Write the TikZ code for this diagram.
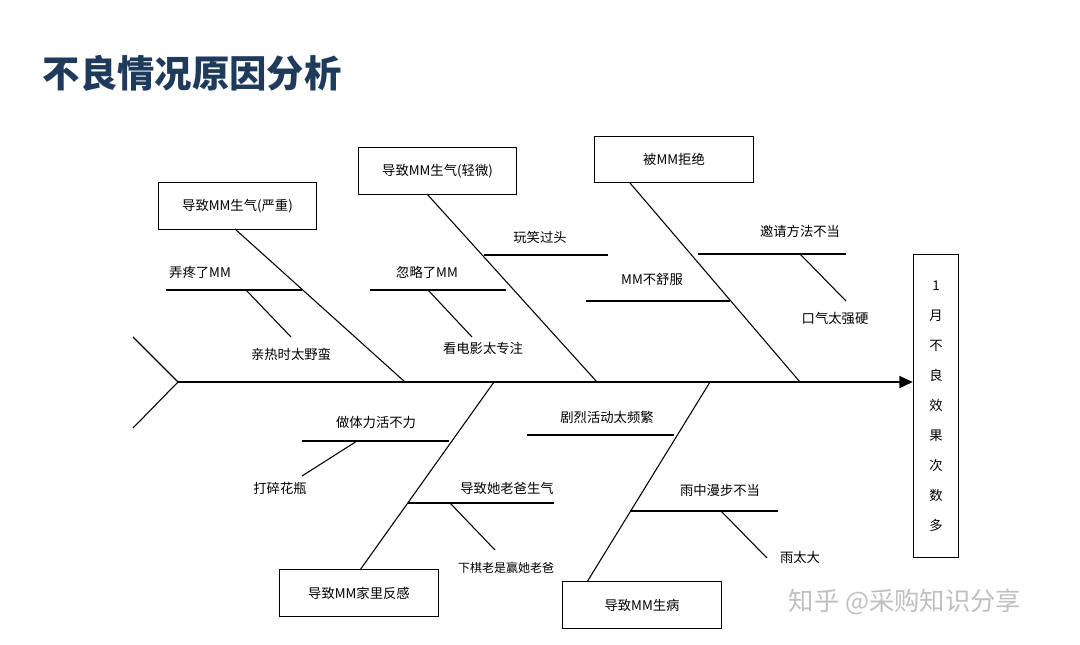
\documentclass[tikz,border=0pt]{standalone}
\usepackage{fontspec}
\setmainfont{Noto Sans CJK SC}
\usepackage{tikz}
\usetikzlibrary{arrows.meta}
\definecolor{titleblue}{HTML}{1F3B5C}
\tikzset{
  cause/.style={draw, thick, minimum width=119pt, minimum height=35pt, font=\fontsize{10}{12}\selectfont},
  lbl/.style={font=\fontsize{10}{12}\selectfont},
  bone/.style={thick},
}
\begin{document}
\begin{tikzpicture}[x=0.75pt, y=-0.75pt]
\useasboundingbox (0,0) rectangle (1080,645);
\node [anchor=west, font=\bfseries\fontsize{28}{32}\selectfont, text=titleblue] (title) at (38,73) {不良情况原因分析};
% effect
\node [draw, thick, minimum width=34pt, minimum height=227pt, align=center, font=\fontsize{10}{22.5}\selectfont] (effect) at (936,406) {1\\月\\不\\良\\效\\果\\次\\数\\多};
\coordinate (tail) at (178,382);
\coordinate (tu) at (133,337);
\coordinate (td) at (133,428);
\draw [bone] (tu) -- (tail) -- (td);
\draw [bone, -{Triangle[length=10pt, width=9pt]}] (tail) -- (tail -| effect.west);
% major causes
\node [cause] (serious) at (237.5,206) {导致MM生气(严重)};
\node [cause] (slight) at (437.5,171) {导致MM生气(轻微)};
\node [cause] (refuse) at (674,159.5) {被MM拒绝};
\node [cause] (family) at (359,593) {导致MM家里反感};
\node [cause] (ill) at (642,605) {导致MM生病};
\coordinate (s1) at (405,382);
\coordinate (s2) at (597,382);
\coordinate (s3) at (800,382);
\coordinate (s4) at (494,382);
\coordinate (s5) at (710,382);
\draw [bone] (235,229) -- (s1);
\draw [bone] (427,194) -- (s2);
\draw [bone] (630,183) -- (s3);
\draw [bone] (360,570) -- (s4);
\draw [bone] (587,582) -- (s5);
% minor causes
\node [lbl] (hurt) at (200,272) {弄疼了MM};
\node [lbl] (rough) at (291,354) {亲热时太野蛮};
\node [lbl] (ignore) at (427,272) {忽略了MM};
\node [lbl] (movie) at (483,348) {看电影太专注};
\node [lbl] (joke) at (540,237) {玩笑过头};
\node [lbl] (unwell) at (652,279) {MM不舒服};
\node [lbl] (invite) at (800,231) {邀请方法不当};
\node [lbl] (tone) at (835,318) {口气太强硬};
\node [lbl] (labor) at (376,422) {做体力活不力};
\node [lbl] (vase) at (280,488) {打碎花瓶};
\node [lbl] (dad) at (507,488) {导致她老爸生气};
\node [lbl, font=\fontsize{9}{11}\selectfont] (chess) at (506,568) {下棋老是赢她老爸};
\node [lbl] (sport) at (607,417) {剧烈活动太频繁};
\node [lbl] (rain) at (720,490) {雨中漫步不当};
\node [lbl] (heavy) at (800,557) {雨太大};
\draw [bone] (166,290) -- (302,290);
\draw [bone] (246,290) -- (291,337);
\draw [bone] (370,290) -- (506,290);
\draw [bone] (428,290) -- (472,337);
\draw [bone] (484,255) -- (608,255);
\draw [bone] (586,301) -- (730,301);
\draw [bone] (698,254) -- (846,254);
\draw [bone] (800,254) -- (846,301);
\draw [bone] (302,441) -- (449,441);
\draw [bone] (357,441) -- (302,476);
\draw [bone] (408,503) -- (554,503);
\draw [bone] (450,503) -- (495,550);
\draw [bone] (527,435) -- (674,435);
\draw [bone] (630,511) -- (778,511);
\draw [bone] (721,511) -- (767,558);
% watermark
\node [text=black!25, font=\fontsize{19}{22}\selectfont] (mark) at (905,602) {知乎 @采购知识分享};
\end{tikzpicture}
\end{document}
